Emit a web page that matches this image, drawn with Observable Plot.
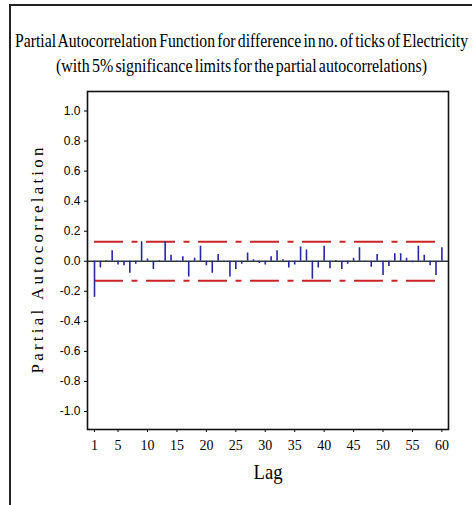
<!DOCTYPE html>
<html>
<head>
<meta charset="utf-8">
<script src="https://cdn.jsdelivr.net/npm/d3@7"></script>
<script src="https://cdn.jsdelivr.net/npm/@observablehq/plot@0.6"></script>
<style>
  html, body { margin: 0; padding: 0; background: #fff; }
  #chart { position: relative; width: 472px; height: 505px; overflow: hidden; background: #fff; }
  #chart svg { position: absolute; left: 0; top: 0; }
  .border { position: absolute; left: 9px; top: 4px; width: 480px; height: 520px;
            border-left: 2px solid #222; border-top: 2px solid #222; pointer-events: none; }
  .ttl { position: absolute; white-space: nowrap; font-family: "Liberation Serif", serif;
         color: #000; line-height: 1; transform-origin: 0 0; word-spacing: -2px; }
</style>
</head>
<body>
<div id="chart">
  <div class="ttl" id="t1" style="font-size:19px; top:31px; left:15px">Partial Autocorrelation Function for difference in no. of ticks of Electricity</div>
  <div class="ttl" id="t2" style="font-size:18px; top:57px; left:56px">(with 5% significance limits for the partial autocorrelations)</div>
  <div class="border"></div>
</div>
<script>
// Partial autocorrelations of the differenced tick counts, lags 1..60
const lags = d3.range(1, 61);
const pacf = [
  -0.24, -0.045, 0.005, 0.07, -0.025, -0.03, -0.08, -0.02, 0.13, 0.015,
  -0.055, 0.005, 0.13, 0.04, -0.005, 0.03, -0.105, 0.02, 0.10, -0.03,
  -0.08, 0.045, -0.005, -0.105, -0.055, -0.02, 0.055, 0.01, -0.015, -0.025,
  0.03, 0.07, 0.01, -0.045, -0.025, 0.095, 0.075, -0.12, -0.045, 0.10,
  -0.05, 0.005, -0.055, -0.02, 0.02, 0.09, -0.005, -0.04, 0.045, -0.095,
  -0.035, 0.05, 0.05, 0.02, -0.01, 0.10, 0.04, -0.03, -0.095, 0.09
];
// 5% significance limits (± 2/sqrt(n))
const limits = [0.13, -0.13];
const xTicks = [1, 5, 10, 15, 20, 25, 30, 35, 40, 45, 50, 55, 60];
const yTicks = [1.0, 0.8, 0.6, 0.4, 0.2, 0.0, -0.2, -0.4, -0.6, -0.8, -1.0];
const yTitle = "Partial Autocorrelation";
const xTitle = "Lag";

const rows = lags.map((lag, i) => ({lag, pacf: pacf[i]}));
const limitRows = limits.map(value => ({value, from: lags[0], to: lags[lags.length - 1]}));

const blue = "#2626a6";
const red = "#cc2424";

const chart = Plot.plot({
  width: 472,
  height: 505,
  marginLeft: 87,
  marginRight: 24,
  marginTop: 91,
  marginBottom: 76,
  style: {background: "none", color: "#000"},
  x: {domain: [-0.19, 61.12]},
  y: {domain: [-1.12, 1.13]},
  marks: [
    Plot.ruleY([0], {stroke: "#2e3a3a", strokeWidth: 1.6}),
    Plot.ruleY(limitRows, {y: "value", x1: "from", x2: "to", stroke: red, strokeWidth: 2, strokeDasharray: "29,8.5,6,8.5"}),
    Plot.ruleX(rows, {x: "lag", y1: 0, y2: "pacf", stroke: blue, strokeWidth: 1.6}),
    Plot.axisY(yTicks, {tickSize: 3, tickPadding: 4, tickFormat: d => d.toFixed(1),
      fontSize: 12, fontFamily: "Liberation Sans", label: null}),
    Plot.axisX(xTicks, {tickSize: 3, tickPadding: 8, fontSize: 14, fontFamily: "Liberation Serif", label: null}),
    Plot.frame({stroke: "#111", strokeWidth: 1.6}),
    Plot.text([yTitle], {frameAnchor: "left", dx: -50, rotate: -90,
      fontSize: 17, fontFamily: "Liberation Serif", textAnchor: "middle", lineAnchor: "middle"}),
    Plot.text([xTitle], {frameAnchor: "bottom", dy: 43, fontSize: 21, fontFamily: "Liberation Serif",
      textAnchor: "middle", lineAnchor: "middle"})
  ]
});

const host = document.getElementById("chart");
host.insertBefore(chart, host.querySelector(".border"));

// spread the y title over 226px with letter spacing, tighten the x title
d3.select(chart).selectAll("text").each(function() {
  const t = this.textContent;
  if (t === yTitle) {
    const len = this.getComputedTextLength();
    const sp = Math.max(0, (226 - len) / (t.length - 1));
    this.style.letterSpacing = sp + "px";
    this.setAttribute("dx", (sp / 2) + "px");
  } else if (t === xTitle) {
    this.setAttribute("textLength", 29);
    this.setAttribute("lengthAdjust", "spacingAndGlyphs");
  }
});

// squeeze the title lines to their widths
function fit(id, width) {
  const el = document.getElementById(id);
  el.style.transform = `scaleX(${width / el.getBoundingClientRect().width})`;
}
fit("t1", 453);
fit("t2", 371);
</script>
</body>
</html>
